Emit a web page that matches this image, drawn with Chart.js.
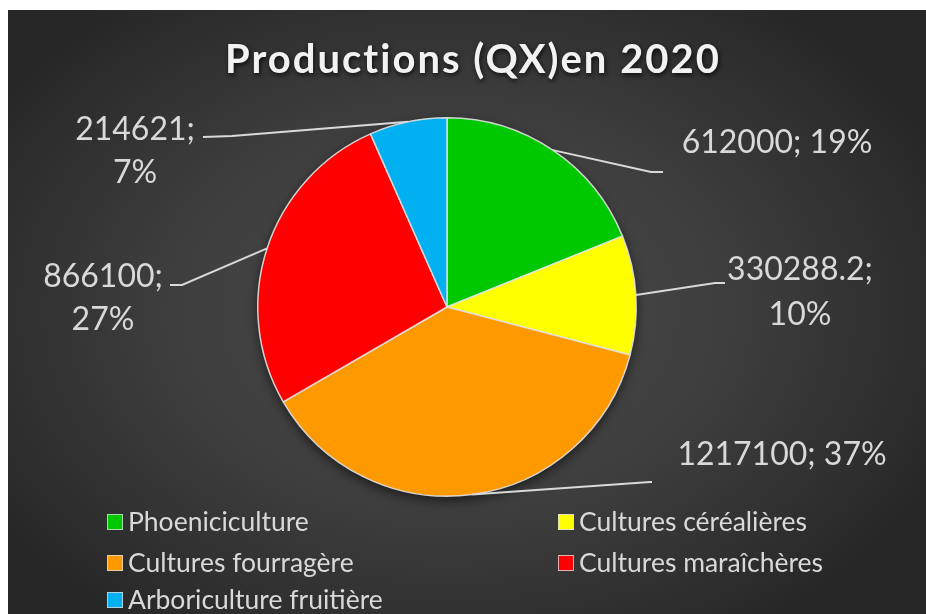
<!DOCTYPE html>
<html>
<head>
<meta charset="utf-8">
<script src="https://cdn.jsdelivr.net/npm/chart.js@4.4.1/dist/chart.umd.min.js"></script>
<style>
  body { margin: 0; background: #ffffff; }
  #wrap {
    position: absolute; left: 8px; top: 10px; width: 918px; height: 604px;
    background: radial-gradient(ellipse 60% 65% at 48% 50%, #4e4e4e 0%, #3c3c3c 55%, #262626 100%);
  }
</style>
</head>
<body>
<div id="wrap"><canvas id="report" width="918" height="604"></canvas></div>
<script>
// data
var categories = ['Phoeniciculture', 'Cultures céréalières', 'Cultures fourragère', 'Cultures maraîchères', 'Arboriculture fruitière'];
var productions = [612000, 330288.2, 1217100, 866100, 214621];
var percentLabels = [19, 10, 37, 27, 7];
var sliceColors = ['#00C800', '#FFFF00', '#FF9900', '#FF0000', '#00B0F0'];

// label placement, offsets from pie centre (elbow, tail, text centre, line gap)
var labelLayout = [
    { e: [204, -135], t: [216, -135], c: [330, -164], oneLine: true },
    { e: [268, -24], t: [278, -24], c: [353, -37], gap: 45 },
    { e: [203, 175], t: [205, 175], c: [335, 148], oneLine: true },
    { e: [-265, -22], t: [-277, -22], c: [-344, -30], gap: 43 },
    { e: [-215, -171], t: [-244, -170], c: [-312, -177], gap: 43 }
];

var textColor = '#d9d9d9';

var decorPlugin = {
    id: 'decor',
    beforeDatasetsDraw: function(chart) {
        // soft shadow under the pie
        var arc = chart.getDatasetMeta(0).data[0];
        var ctx = chart.ctx;
        ctx.save();
        ctx.shadowColor = 'rgba(0,0,0,0.6)';
        ctx.shadowBlur = 12;
        ctx.shadowOffsetY = 4;
        ctx.fillStyle = '#333';
        ctx.beginPath();
        ctx.arc(arc.x, arc.y, arc.outerRadius, 0, Math.PI * 2);
        ctx.fill();
        ctx.restore();
    },
    afterDraw: function(chart) {
        var ctx = chart.ctx;
        var meta = chart.getDatasetMeta(0);
        var cx = meta.data[0].x, cy = meta.data[0].y;

        // title
        ctx.save();
        ctx.font = 'bold 40px Lato';
        ctx.letterSpacing = '2px';
        ctx.textAlign = 'center';
        ctx.textBaseline = 'middle';
        ctx.shadowColor = 'rgba(0,0,0,0.8)';
        ctx.shadowBlur = 5;
        ctx.shadowOffsetX = 1;
        ctx.shadowOffsetY = 2;
        ctx.fillStyle = '#f2f2f2';
        ctx.fillText('Productions (QX)en 2020', 465, 50);
        ctx.restore();

        // data labels with leader lines
        ctx.save();
        ctx.strokeStyle = textColor;
        ctx.lineWidth = 2;
        ctx.fillStyle = textColor;
        ctx.font = '32px Lato';
        ctx.textAlign = 'center';
        ctx.textBaseline = 'middle';
        meta.data.forEach(function(el, i) {
            var lay = labelLayout[i];
            var mid = (el.startAngle + el.endAngle) / 2;
            var sx = el.x + el.outerRadius * Math.cos(mid);
            var sy = el.y + el.outerRadius * Math.sin(mid);
            ctx.beginPath();
            ctx.moveTo(sx, sy);
            ctx.lineTo(cx + lay.e[0], cy + lay.e[1]);
            ctx.lineTo(cx + lay.t[0], cy + lay.t[1]);
            ctx.stroke();
            var val = String(productions[i]);
            var pct = percentLabels[i] + '%';
            if (lay.oneLine) {
                ctx.fillText(val + '; ' + pct, cx + lay.c[0], cy + lay.c[1]);
            } else {
                ctx.fillText(val + ';', cx + lay.c[0], cy + lay.c[1]);
                ctx.fillText(pct, cx + lay.c[0], cy + lay.c[1] + lay.gap);
            }
        });
        ctx.restore();

        // legend, two columns
        ctx.save();
        ctx.font = '26.5px Lato';
        ctx.textBaseline = 'middle';
        ctx.textAlign = 'left';
        var colX = [99, 550];
        var rowY = [512, 553, 590];
        categories.forEach(function(name, i) {
            var x = colX[i % 2], y = rowY[Math.floor(i / 2)];
            ctx.fillStyle = sliceColors[i];
            ctx.fillRect(x, y - 8, 16, 16);
            ctx.strokeStyle = 'rgba(220,220,220,0.8)';
            ctx.lineWidth = 1;
            ctx.strokeRect(x + 0.5, y - 7.5, 15, 15);
            ctx.fillStyle = textColor;
            ctx.fillText(name, x + 21, y);
        });
        ctx.restore();
    }
};

var ctx = document.getElementById('report').getContext('2d');
var productionsChart = new Chart(ctx, {
    type: 'pie',
    data: {
        labels: categories,
        datasets: [{
            label: 'Productions (QX) en 2020',
            data: productions,
            backgroundColor: sliceColors,
            borderColor: 'rgba(225,225,225,0.9)',
            borderWidth: 1.5
        }]
    },
    options: {
        responsive: false,
        animation: false,
        layout: { padding: { top: 107, bottom: 117, left: 100, right: 140 } },
        plugins: {
            legend: { display: false },
            title: { display: false },
            tooltip: { enabled: false }
        }
    },
    plugins: [decorPlugin]
});
</script>
</body>
</html>
